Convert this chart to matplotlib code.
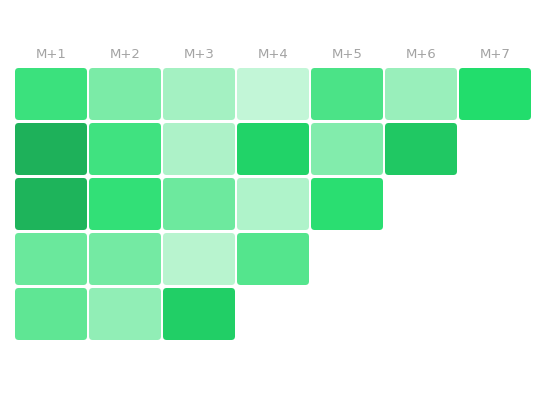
import matplotlib
matplotlib.use('Agg')
import matplotlib.pyplot as plt
from matplotlib.colors import LinearSegmentedColormap
from matplotlib.patches import FancyBboxPatch

# cohort retention heatmap, rows = cohorts, columns = months after start
months = ['M+1', 'M+2', 'M+3', 'M+4', 'M+5', 'M+6', 'M+7']
row1 = [71, 48, 33, 22, 65, 37, 80]
row2 = [99, 69, 30, 84, 45, 89]
row3 = [98, 74, 53, 29, 77]
row4 = [54, 50, 26, 62]
row5 = [58, 40, 86]
rows = [row1, row2, row3, row4, row5]

cmap = LinearSegmentedColormap.from_list(
    'greens', [(0.0, '#ffffff'), (0.8, '#22dd6c'), (1.0, '#1eaf59')])

fig = plt.figure(figsize=(5.46, 4.07), dpi=100)
ax = fig.add_axes([14 / 546, 1 - 341.5 / 407, 518 / 546, 275 / 407])

w, h = 72 / 74, 52 / 55
for j, row in enumerate(rows):
    for i, v in enumerate(row):
        ax.add_patch(FancyBboxPatch(
            (i - w / 2, j - h / 2), w, h,
            boxstyle='round,pad=0,rounding_size=0.05',
            mutation_aspect=74 / 55,
            facecolor=cmap(v / 100), edgecolor='none'))

ax.set_xlim(-0.5, 6.5)
ax.set_ylim(4.5, -0.5)
ax.set_xticks(range(len(months)))
ax.set_xticklabels(months)
ax.set_yticks([])
ax.tick_params(axis='x', top=True, bottom=False, labeltop=True,
               labelbottom=False, length=0, pad=4, labelsize=9.5,
               labelcolor='#a3a3a3')
for s in ax.spines.values():
    s.set_visible(False)

fig.savefig('out.png', dpi=100)
